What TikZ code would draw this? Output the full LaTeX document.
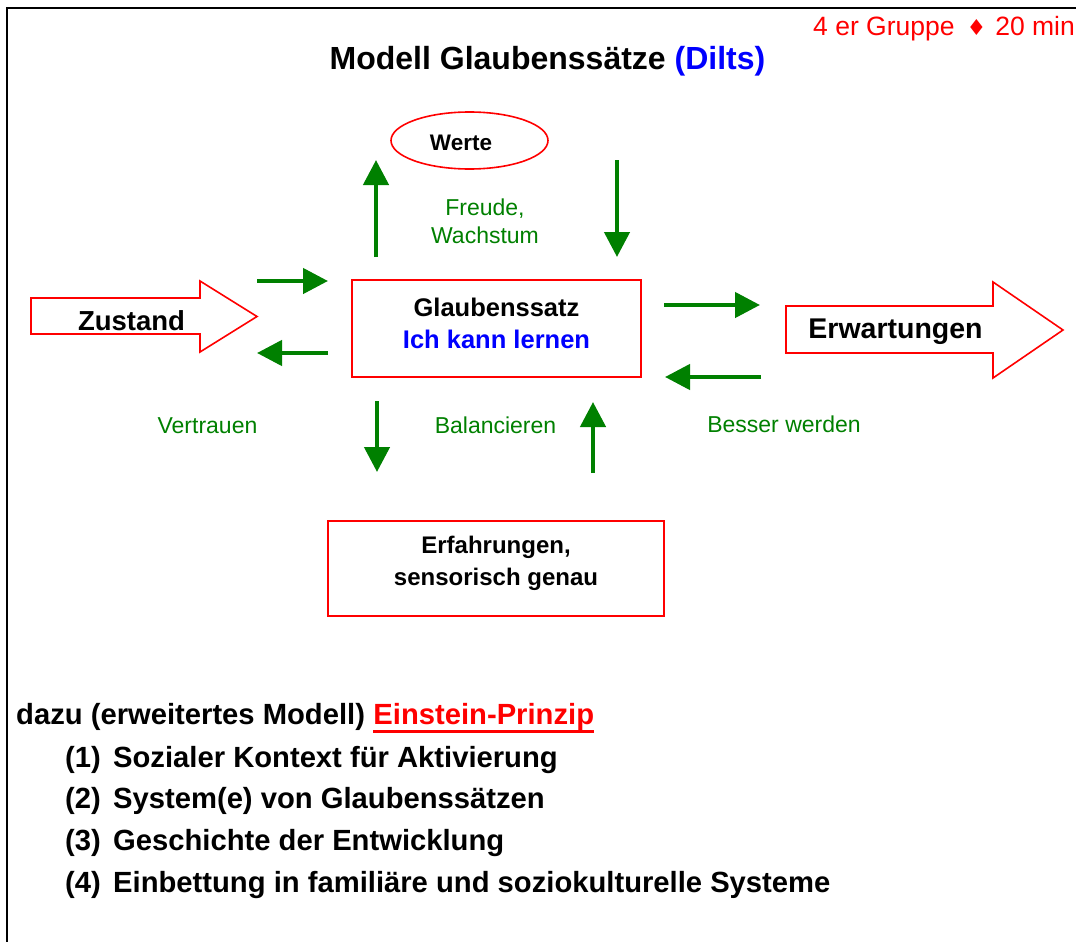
\documentclass[tikz,border=0pt]{standalone}
\usepackage{fontspec}
\setmainfont{Liberation Sans}
\newfontfamily\symfont{DejaVu Sans}
\usetikzlibrary{arrows.meta}
\definecolor{dgreen}{RGB}{0,128,0}
\definecolor{myred}{RGB}{255,0,0}
\definecolor{myblue}{RGB}{0,0,255}
\begin{document}
\begin{tikzpicture}[x=1pt,y=-1pt,
  txt/.style={inner sep=0pt, anchor=base},
  glabel/.style={txt, text=dgreen, font=\fontsize{23}{28}\selectfont, align=center},
  garrow/.style={draw=dgreen, line width=4.5pt, -{Triangle[length=25pt,width=25pt]}},
  redbox/.style={draw=myred, line width=1.8pt, fill=white, inner sep=0pt},
  blockarrow/.style={draw=myred, line width=1.6pt, fill=white, line join=miter},
  boldtxt/.style={txt, font=\bfseries\fontsize{25.5}{32}\selectfont, align=center},
  listtxt/.style={txt, anchor=base west, font=\bfseries\fontsize{29.2}{34}\selectfont}
]
\useasboundingbox (0,0) rectangle (1076,942);
% frame
\draw[line width=2pt] (6.5,942) -- (6.5,8.5) -- (1076,8.5);
% top right
\node[txt, anchor=base west, text=myred, font=\fontsize{26.5}{30}\selectfont] (meta) at (813,36)
  {4 er Gruppe\hspace{12pt}{\symfont\fontsize{22}{24}\selectfont ♦}\hspace{9pt}20 min};
% title
\node[txt, font=\bfseries\fontsize{32}{36}\selectfont] (title) at (547.5,70)
  {Modell Glaubenssätze \textcolor{myblue}{(Dilts)}};
% Werte ellipse
\draw[draw=myred, line width=1.6pt] (469.5,140.5) ellipse [x radius=78.5pt, y radius=28.5pt];
\node[txt, font=\bfseries\fontsize{22.5}{26}\selectfont] (werte) at (461,150) {Werte};
% Glaubenssatz box
\node[redbox, minimum width=289pt, minimum height=97pt] (glaube) at (496.5,328.5) {};
\node[boldtxt] (glaubetxt) at (496.5,348) {Glaubenssatz\\\textcolor{myblue}{Ich kann lernen}};
% Erfahrungen box
\node[redbox, minimum width=336pt, minimum height=95pt] (erf) at (496,568.5) {};
\node[txt, font=\bfseries\fontsize{24}{32.5}\selectfont, align=center] (erftxt) at (496,585.5)
  {Erfahrungen,\\sensorisch genau};
% Zustand block arrow
\draw[blockarrow] (31,298) -- (200,298) -- (200,281) -- (257,316.5) -- (200,352) -- (200,334) -- (31,334) -- cycle;
\node[txt, font=\bfseries\fontsize{27.5}{32}\selectfont] (zustand) at (131.5,330) {Zustand};
% Erwartungen block arrow
\draw[blockarrow] (786,306) -- (993,306) -- (993,282) -- (1063,330) -- (993,378) -- (993,353) -- (786,353) -- cycle;
\node[txt, font=\bfseries\fontsize{28.5}{32}\selectfont] (erw) at (895.5,338) {Erwartungen};
% green labels
\node[glabel] (freude) at (485,243) {Freude,\\Wachstum};
\node[glabel] (vertrauen) at (207.5,433) {Vertrauen};
\node[glabel] (balance) at (495.5,433) {Balancieren};
\node[glabel] (besser) at (784,432) {Besser werden};
% arrow end points
\coordinate (a1s) at (376,257); \coordinate (a1e) at (376,160);
\coordinate (a2s) at (617,160); \coordinate (a2e) at (617,257);
\coordinate (a3s) at (257,281); \coordinate (a3e) at (328,281);
\coordinate (a4s) at (328,353); \coordinate (a4e) at (257,353);
\coordinate (a5s) at (664,305); \coordinate (a5e) at (760,305);
\coordinate (a6s) at (761,377); \coordinate (a6e) at (665,377);
\coordinate (a7s) at (377,401); \coordinate (a7e) at (377,472);
\coordinate (a8s) at (593,473); \coordinate (a8e) at (593,402);
\foreach \i in {1,...,8} {\draw[garrow] (a\i s) -- (a\i e);}
% bottom text
\node[listtxt] (dazu) at (16,724) {dazu (erweitertes Modell)};
\node[listtxt, text=myred] (ep) at ([xshift=8pt]dazu.base east) {Einstein-Prinzip};
\draw[myred, line width=3pt] ([yshift=-7pt]ep.base west) -- ([yshift=-7pt]ep.base east);
\node[listtxt] (l1) at (65,767) {\makebox[48pt][l]{(1)}Sozialer Kontext für Aktivierung};
\node[listtxt] (l2) at (65,808) {\makebox[48pt][l]{(2)}System(e) von Glaubenssätzen};
\node[listtxt] (l3) at (65,850) {\makebox[48pt][l]{(3)}Geschichte der Entwicklung};
\node[listtxt] (l4) at (65,892) {\makebox[48pt][l]{(4)}Einbettung in familiäre und soziokulturelle Systeme};
\end{tikzpicture}
\end{document}
